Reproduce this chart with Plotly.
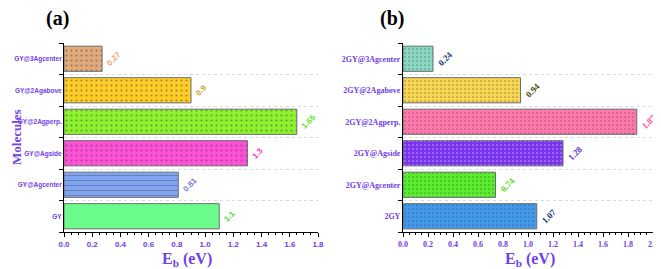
import plotly.graph_objects as go

cats_a = ["GY", "GY@Agcenter", "GY@Agside", "GY@2Agperp.", "GY@2Agabove", "GY@3Agcenter"]
vals_a = [1.1, 0.81, 1.3, 1.65, 0.9, 0.27]
labels_a = ["1.1", "0.81", "1.3", "1.65", "0.9", "0.27"]
colors_a = ["#6cfc8c", "#80a4f4", "#ff50d8", "#8cf22c", "#ffcc26", "#e2aa7a"]
pat_a = ["", "-", ".", ".", ".", "."]
patfg_a = ["#55e070", "#3a5ccc", "#d8209c", "#70d818", "#f0b800", "#b8784a"]
txtcol_a = ["#44dd44", "#7c7cdc", "#ff33cc", "#66e622", "#c8a424", "#f0a070"]

cats_b = ["2GY", "2GY@Agcenter", "2GY@Agside", "2GY@2Agperp.", "2GY@2Agabove", "2GY@3Agcenter"]
vals_b = [1.07, 0.74, 1.28, 1.87, 0.94, 0.24]
labels_b = ["1.07", "0.74", "1.28", "1.87", "0.94", "0.24"]
colors_b = ["#4098ea", "#58ee2c", "#7a34f0", "#ff78ac", "#f8d650", "#8ad8c2"]
patfg_b = ["#7ab8f8", "#80f060", "#9058f4", "#ff98c0", "#e8c440", "#78ccb4"]
txtcol_b = ["#1a3a8a", "#55dd22", "#6a3ad8", "#ff5599", "#5a4a10", "#1a3a7a"]

purple = "#7040e8"
SERIF = "Liberation Serif, Times New Roman, serif"

fig = go.Figure()
fig.add_trace(go.Bar(
    y=cats_a, x=vals_a, orientation="h", width=0.8,
    marker=dict(color=colors_a, line=dict(color="#6a7070", width=1),
                pattern=dict(shape=pat_a, fgcolor=patfg_a, size=5, solidity=0.15)),
    text=labels_a, textposition="outside", textangle=-45, cliponaxis=False,
    textfont=dict(color=txtcol_a, size=8, family="Liberation Sans", weight="bold"),
    xaxis="x", yaxis="y", showlegend=False))
fig.add_trace(go.Bar(
    y=cats_b, x=vals_b, orientation="h", width=0.8,
    marker=dict(color=colors_b, line=dict(color="#6a7070", width=1),
                pattern=dict(shape=".", fgcolor=patfg_b, size=4, solidity=0.15)),
    text=labels_b, textposition="outside", textangle=-45, cliponaxis=False,
    textfont=dict(color=txtcol_b, size=9, family=SERIF, weight="bold"),
    xaxis="x2", yaxis="y2", showlegend=False))

H = 269
W = 661
OFF = 8  # page body margin offset


def px(x):
    return (x - OFF) / W


def py(y):
    return 1 - (y - OFF) / H


xcommon = dict(showline=True, linecolor="black", linewidth=1, ticks="outside",
               ticklen=4, tickcolor="black", dtick=0.2, tick0=0, showgrid=False,
               zeroline=False, automargin=False,
               minor=dict(ticks="outside", ticklen=2, dtick=0.05, tickcolor="black"))
ycommon = dict(showline=True, linecolor="black", linewidth=1, ticks="outside",
               ticklen=4, tickcolor="black", tickson="boundaries", showgrid=True,
               gridcolor="#d4dae6", griddash="dot", gridwidth=1, categoryorder="array",
               automargin=False)

fig.update_layout(
    width=W, height=H, autosize=False,
    margin=dict(l=0, r=0, t=0, b=0),
    plot_bgcolor="white", paper_bgcolor="white",
    bargap=0.2,
    xaxis=dict(domain=[px(64), px(318)], range=[0, 1.8], anchor="y",
               tickfont=dict(family="Liberation Sans", size=8, color=purple, weight="bold"),
               tickformat=".1f", **xcommon),
    yaxis=dict(domain=[py(232), py(43)], anchor="x", categoryarray=cats_a,
               tickfont=dict(family="Liberation Sans", size=6.5, color=purple, weight="bold"), **ycommon),
    xaxis2=dict(domain=[px(403), px(653)], range=[0, 2.0], anchor="y2",
                tickfont=dict(family=SERIF, size=8, color=purple, weight="bold"),
                tickformat=".1f", **xcommon),
    yaxis2=dict(domain=[py(232), py(43)], anchor="x2", categoryarray=cats_b,
                tickfont=dict(family=SERIF, size=8, color=purple, weight="bold"), **ycommon),
    annotations=[
        dict(text="<b>(a)</b>", x=px(57), y=py(18), xref="paper", yref="paper",
             xanchor="center", yanchor="middle", showarrow=False,
             font=dict(family=SERIF, size=20, color="black")),
        dict(text="<b>(b)</b>", x=px(392), y=py(18), xref="paper", yref="paper",
             xanchor="center", yanchor="middle", showarrow=False,
             font=dict(family=SERIF, size=20, color="black")),
        dict(text="<b>Molecules</b>", x=px(16), y=py(137), xref="paper", yref="paper",
             xanchor="center", yanchor="middle", showarrow=False, textangle=-90,
             font=dict(family=SERIF, size=13, color=purple)),
        dict(text="<b>E<sub>b</sub> (eV)</b>", x=px(187), y=py(259), xref="paper", yref="paper",
             xanchor="center", yanchor="middle", showarrow=False,
             font=dict(family=SERIF, size=16, color=purple)),
        dict(text="<b>E<sub>b</sub> (eV)</b>", x=px(530), y=py(259), xref="paper", yref="paper",
             xanchor="center", yanchor="middle", showarrow=False,
             font=dict(family=SERIF, size=16, color=purple)),
    ],
)

fig.write_html("out.html")
